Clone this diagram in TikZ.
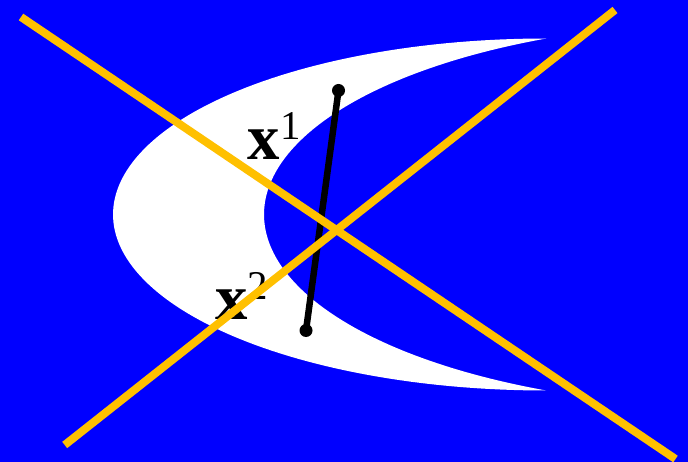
\documentclass[tikz,border=0pt]{standalone}
\usepackage{fontspec}
\setmainfont{Liberation Serif}
\definecolor{bgblue}{HTML}{0000FF}
\definecolor{lineorange}{HTML}{FFC000}
\tikzset{
  seg/.style={line width=6.5bp, black},
  ptdot/.style={circle, fill=black, inner sep=0pt, minimum size=13bp},
  cutline/.style={line width=8bp, lineorange},
  lbl/.style={inner sep=0pt, anchor=base west, font=\fontsize{65}{65}\selectfont},
}
\newcommand{\suplbl}[1]{\raisebox{20bp}{\fontsize{41}{41}\selectfont\mdseries #1}}
\begin{document}
\begin{tikzpicture}[x=1bp,y=-1bp]
  \fill[bgblue] (0,0) rectangle (688,462);
  \useasboundingbox (0,0) rectangle (688,462);
  % crescent
  \fill[white]
    plot[domain=270:90, samples=120] ({546+433*cos(\x)}, {214.5+176*sin(\x)})
    -- plot[domain=113.85:246.15, samples=120] ({737.5+473.5*cos(\x)}, {214.5+192.4*sin(\x)})
    -- cycle;
  % labels
  \node[lbl] (l1) at (247,160) {\textbf{x}\kern1bp\suplbl{1}};
  \node[lbl] (l2) at (215,320) {\textbf{x}\suplbl{2}};
  % segment
  \node[ptdot] (p1) at (338.5,90.5) {};
  \node[ptdot] (p2) at (306,330.5) {};
  \draw[seg] (p1.center) -- (p2.center);
  % orange lines
  \coordinate (a1) at (21,17);
  \coordinate (a2) at (675.5,459);
  \coordinate (b1) at (64.7,445);
  \coordinate (b2) at (615,10);
  \draw[cutline] (a1) -- (a2);
  \draw[cutline] (b1) -- (b2);
\end{tikzpicture}
\end{document}
